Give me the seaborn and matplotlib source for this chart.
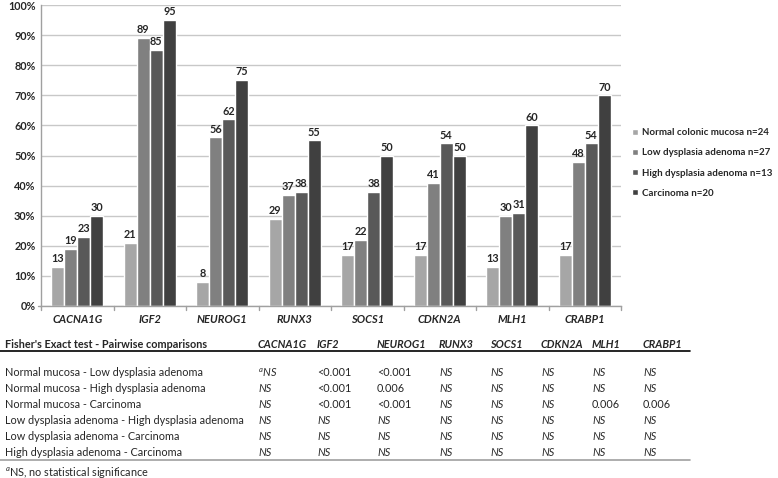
import matplotlib
matplotlib.use("Agg")
import matplotlib.pyplot as plt
import seaborn as sns
import pandas as pd

# ---------------------------------------------------------------------------
# Data
# ---------------------------------------------------------------------------
genes = ["CACNA1G", "IGF2", "NEUROG1", "RUNX3", "SOCS1", "CDKN2A", "MLH1", "CRABP1"]
groups = ["Normal colonic mucosa n=24", "Low dysplasia adenoma n=27",
          "High dysplasia adenoma n=13", "Carcinoma n=20"]
normal = [13, 21, 8, 29, 17, 17, 13, 17]
low_dys = [19, 89, 56, 37, 22, 41, 30, 48]
high_dys = [23, 85, 62, 38, 38, 54, 31, 54]
carcinoma = [30, 95, 75, 55, 50, 50, 60, 70]
colors = ["#a6a6a6", "#808080", "#595959", "#404040"]

table_header = "Fisher's Exact test - Pairwise comparisons"
comparisons = ["Normal mucosa - Low dysplasia adenoma",
               "Normal mucosa - High dysplasia adenoma",
               "Normal mucosa - Carcinoma",
               "Low dysplasia adenoma - High dysplasia adenoma",
               "Low dysplasia adenoma - Carcinoma",
               "High dysplasia adenoma - Carcinoma"]
p_values = [
    ["$^{a}$NS", "<0.001", "<0.001", "NS", "NS", "NS", "NS", "NS"],
    ["NS", "<0.001", "0.006", "NS", "NS", "NS", "NS", "NS"],
    ["NS", "<0.001", "<0.001", "NS", "NS", "NS", "0.006", "0.006"],
    ["NS", "NS", "NS", "NS", "NS", "NS", "NS", "NS"],
    ["NS", "NS", "NS", "NS", "NS", "NS", "NS", "NS"],
    ["NS", "NS", "NS", "NS", "NS", "NS", "NS", "NS"],
]
footnote = "$^{a}$NS, no statistical significance"

df = pd.DataFrame({
    "gene": genes * 4,
    "group": [g for g in groups for _ in genes],
    "pct": normal + low_dys + high_dys + carcinoma,
})

# ---------------------------------------------------------------------------
# Figure
# ---------------------------------------------------------------------------
sns.set_theme(style="white")
plt.rcParams["font.family"] = ["Lato", "DejaVu Sans"]
plt.rcParams["mathtext.fontset"] = "custom"
plt.rcParams["mathtext.it"] = "Lato:italic"
plt.rcParams["mathtext.rm"] = "Lato"

W, H = 778, 478
fig = plt.figure(figsize=(W / 100, H / 100), dpi=100)
ax = fig.add_axes([41 / W, (H - 306) / H, 580 / W, 301 / H])

sns.barplot(data=df, x="gene", y="pct", hue="group", palette=colors,
            width=0.72, gap=0, ax=ax, legend=True, saturation=1)

for cont in ax.containers:
    ax.bar_label(cont, fmt="%d", fontsize=7.8, fontweight="bold", padding=2)

ax.set_ylim(0, 100)
ax.set_xlim(-0.5, len(genes) - 0.5)
ax.set_yticks(range(0, 101, 10))
ax.set_yticklabels([f"{v}%" for v in range(0, 101, 10)], fontsize=7.8, fontweight="bold")
ax.set_xticks(range(len(genes)))
ax.set_xticklabels(genes, fontsize=8, fontweight="bold", style="italic")
ax.tick_params(axis="x", length=0, pad=6)
ax.tick_params(axis="y", length=0, pad=4)
ax.set_xlabel("")
ax.set_ylabel("")
ax.yaxis.grid(True, color="#c8c8c8", lw=1)
ax.set_axisbelow(True)
for s in ["top", "right"]:
    ax.spines[s].set_visible(False)
for s in ["left", "bottom"]:
    ax.spines[s].set_color("#a0a0a0")
    ax.spines[s].set_linewidth(1)
# small boundary ticks between groups
for i in range(len(genes) + 1):
    ax.plot([i - 0.5, i - 0.5], [0, -1.3], color="#a0a0a0", lw=1, clip_on=False)
ax.plot([-0.5, -0.5 - 0.04], [0, 0], color="#a0a0a0", lw=1, clip_on=False)


def fy(py):
    return 1 - py / H


ax.legend(loc="center left", bbox_to_anchor=(632 / W, fy(163)),
          bbox_transform=fig.transFigure, frameon=False,
          prop={"size": 7.0, "weight": "bold"}, handlelength=0.6,
          handleheight=0.6, handletextpad=0.4, labelspacing=1.15,
          borderaxespad=0, borderpad=0)

# ---------------------------------------------------------------------------
# Table
# ---------------------------------------------------------------------------
FS = 7.8
col_x = [258, 317, 377, 439, 490, 541, 592, 643]
fig.text(5 / W, fy(344), table_header, fontsize=FS, fontweight="bold", va="center")
for x, g in zip(col_x, genes):
    fig.text(x / W, fy(344), g, fontsize=FS, fontweight="bold", style="italic", va="center")
fig.add_artist(plt.Line2D([0, 690 / W], [fy(351), fy(351)], color="black", lw=1.2))

row_y = [373, 389, 405, 420, 436, 452]
for y, comp, vals in zip(row_y, comparisons, p_values):
    fig.text(5 / W, fy(y), comp, fontsize=FS, va="center")
    for x, v in zip(col_x, vals):
        fig.text(x / W, fy(y), v, fontsize=FS, va="center",
                 style="italic" if "NS" in v else "normal")
fig.add_artist(plt.Line2D([0, 690 / W], [fy(460), fy(460)], color="#a0a0a0", lw=1.2))
fig.text(5 / W, fy(472), footnote, fontsize=FS, va="center")

fig.savefig("out.png", dpi=100)
